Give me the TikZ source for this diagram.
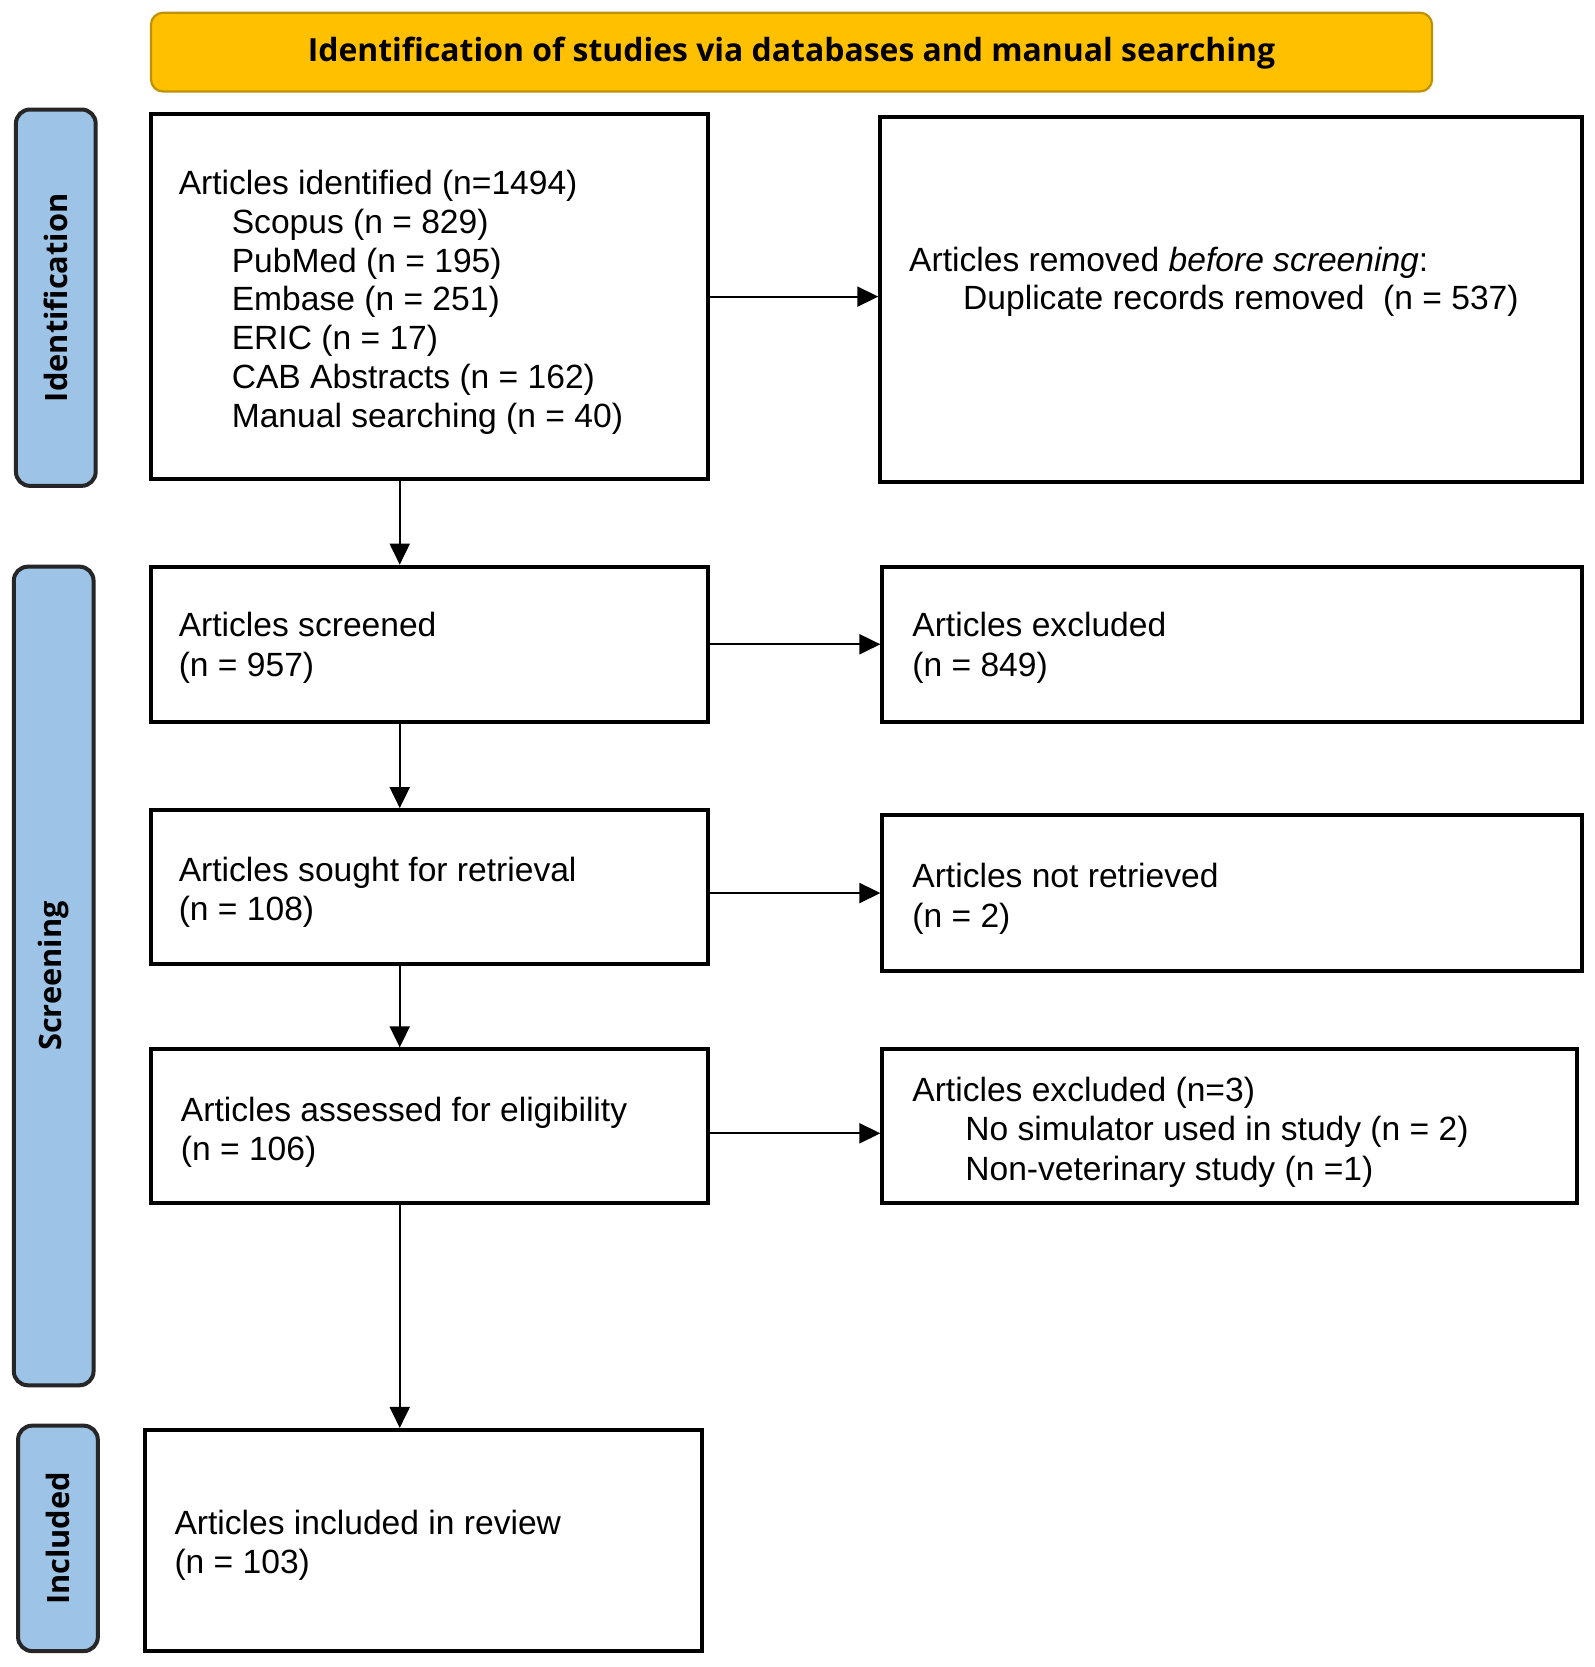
\documentclass[tikz,border=0pt]{standalone}
\usepackage{fontspec}
\usepackage{graphicx}
\setmainfont{Liberation Sans}
\newfontfamily\labfont{Open Sans}
\usetikzlibrary{arrows.meta,fit}
\definecolor{hdrfill}{HTML}{FFC000}
\definecolor{hdrline}{HTML}{BF9000}
\definecolor{barfill}{HTML}{9DC3E6}
\definecolor{barline}{HTML}{262626}
\begin{document}
\begin{tikzpicture}[x=1.0633pt,y=-1.0633pt,
  box/.style={draw=black,line width=4pt,inner sep=0pt,fill=white},
  bar/.style={draw=barline,line width=4pt,fill=barfill,rounded corners=14pt,inner sep=0pt},
  txt/.style={anchor=base west,inner sep=0pt,font=\fontsize{33.6}{39.3}\selectfont},
  lab/.style={rotate=90,inner sep=0pt,font=\labfont\bfseries\fontsize{30.8}{36}\selectfont,text=black},
  arr/.style={line width=2pt,-{Triangle[length=21pt,width=20pt]}}]
\useasboundingbox (0,0) rectangle (1500,1568);
\fill[white] (0,0) rectangle (1500,1568);
% header
\node[fit={(142,12)(1347,86)},draw=hdrline,line width=2.2pt,fill=hdrfill,rounded corners=12pt,inner sep=0pt] (hdr) {};
\node[inner sep=0pt,text=black] (hdrt) at ([yshift=-1pt]hdr.center) {\resizebox{967.6pt}{!}{\labfont\bfseries Identification of studies via databases and manual searching}};
% side bars
\node[bar,fit={(15,103)(90,457)}] (barid) {};
\node[lab] (labid) at (barid.center) {Identification};
\node[bar,fit={(13,533)(88,1303)}] (barsc) {};
\node[lab] (labsc) at (barsc.center) {Screening};
\node[bar,fit={(17,1341)(92,1553)}] (barin) {};
\node[lab] (labin) at (barin.center) {Included};
% boxes
\node[box,fit={(142,107)(666,451)}] (id) {};
\node[box,fit={(828,110)(1488,453)}] (rem) {};
\node[box,fit={(142,533)(666,679)}] (scr) {};
\node[box,fit={(830,533)(1488,679)}] (exc) {};
\node[box,fit={(142,762)(666,907)}] (sr) {};
\node[box,fit={(830,767)(1488,913)}] (nr) {};
\node[box,fit={(142,987)(666,1132)}] (asd) {};
\node[box,fit={(830,987)(1483,1132)}] (ex3) {};
\node[box,fit={(136,1345)(660,1553)}] (inc) {};
% texts
\node[txt] (t1) at (168,183) {\renewcommand\arraystretch{0.986}\begin{tabular}[t]{@{}l@{}}Articles identified (n=1494)\\
\hspace*{53pt}Scopus (n = 829)\\
\hspace*{53pt}PubMed (n = 195)\\
\hspace*{53pt}Embase (n = 251)\\
\hspace*{53pt}ERIC (n = 17)\\
\hspace*{53pt}CAB Abstracts (n = 162)\\
\hspace*{53pt}Manual searching (n = 40)\end{tabular}};
\node[txt] (t2) at (855,255) {\renewcommand\arraystretch{0.973}\begin{tabular}[t]{@{}l@{}}Articles removed \textit{before screening}:\\
\hspace*{54pt}Duplicate records removed\ \ (n = 537)\end{tabular}};
\node[txt] (t3) at (168,599) {\begin{tabular}[t]{@{}l@{}}Articles screened\\(n = 957)\end{tabular}};
\node[txt] (t4) at (858,599) {\begin{tabular}[t]{@{}l@{}}Articles excluded\\(n = 849)\end{tabular}};
\node[txt] (t5) at (168,829) {\begin{tabular}[t]{@{}l@{}}Articles sought for retrieval\\(n = 108)\end{tabular}};
\node[txt] (t6) at (858,835) {\begin{tabular}[t]{@{}l@{}}Articles not retrieved\\(n = 2)\end{tabular}};
\node[txt] (t7) at (170,1055) {\begin{tabular}[t]{@{}l@{}}Articles assessed for eligibility\\(n = 106)\end{tabular}};
\node[txt] (t8) at (858,1036) {\begin{tabular}[t]{@{}l@{}}Articles excluded (n=3)\\
\hspace*{53pt}No simulator used in study (n = 2)\\
\hspace*{53pt}Non-veterinary study (n =1)\end{tabular}};
\node[txt] (t9) at (164,1443) {\begin{tabular}[t]{@{}l@{}}Articles included in review\\(n = 103)\end{tabular}};
% connectors
\coordinate (ax) at (376,0);
\draw[arr] (id.south -| ax) -- (scr.north -| ax);
\draw[arr] (scr.south -| ax) -- (sr.north -| ax);
\draw[arr] (sr.south -| ax) -- (asd.north -| ax);
\draw[arr] (asd.south -| ax) -- (inc.north -| ax);
\draw[arr] (id.east) -- (id.east -| rem.west);
\draw[arr] (scr.east) -- (scr.east -| exc.west);
\draw[arr] (sr.east |- nr.west) -- (nr.west);
\draw[arr] ([yshift=-6.9pt]asd.east) -- ([yshift=-6.9pt]asd.east -| ex3.west);
\end{tikzpicture}
\end{document}
